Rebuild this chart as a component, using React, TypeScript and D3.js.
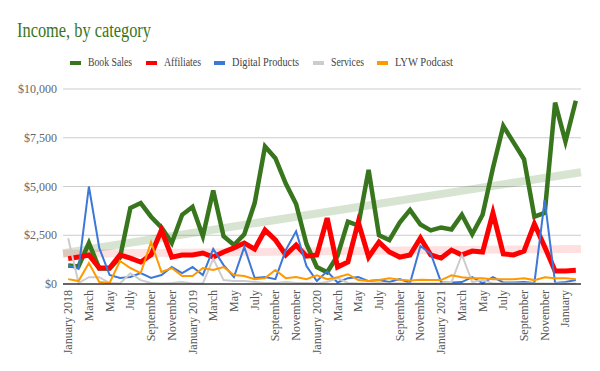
import React from 'react';
import * as d3 from 'd3';

// months Jan 2018 .. Feb 2022
const months = [
  'January 2018', 'February', 'March', 'April', 'May', 'June', 'July', 'August', 'September', 'October', 'November', 'December',
  'January 2019', 'February', 'March', 'April', 'May', 'June', 'July', 'August', 'September', 'October', 'November', 'December',
  'January 2020', 'February', 'March', 'April', 'May', 'June', 'July', 'August', 'September', 'October', 'November', 'December',
  'January 2021', 'February', 'March', 'April', 'May', 'June', 'July', 'August', 'September', 'October', 'November', 'December',
  'January', 'February',
];

const bookSales = [
  950, 900, 2100, 800, 800, 1350, 3900, 4150, 3450, 2900, 2100, 3550,
  3950, 2450, 4800, 2450, 2000, 2550, 4150, 7050, 6450, 5150, 4100, 2050,
  870, 600, 1450, 3200, 3000, 5850, 2500, 2250, 3150, 3800, 3050, 2750,
  2900, 2800, 3550, 2550, 3550, 5950, 8100, 7250, 6400, 3450, 3650, 9300,
  7300, 9400,
];
const affiliates = [
  1300, 1380, 1490, 820, 820, 1490, 1330, 1130, 1490, 2770, 1380, 1490,
  1490, 1590, 1380, 1640, 1850, 2100, 1790, 2770, 2260, 1490, 2000, 1430,
  1490, 3380, 870, 1130, 3180, 1380, 2150, 1640, 1380, 1490, 2360, 1490,
  1330, 1740, 1490, 1690, 1640, 3640, 1540, 1490, 1690, 3080, 1900, 670,
  670, 700,
];
const digitalProducts = [
  970, 770, 5000, 1850, 460, 310, 360, 560, 310, 460, 870, 560,
  870, 460, 1800, 970, 360, 1900, 310, 360, 250, 1740, 2700, 920,
  150, 650, 80, 300, 360, 150, 200, 100, 250, 50, 1950, 1550,
  80, 80, 100, 350, 50, 350, 80, 80, 100, 50, 4300, 50,
  100, 200,
];
const services = [
  2350, 50, 350, 350, 50, 30, 550, 200, 50, 30, 50, 100,
  30, 30, 1300, 200, 150, 150, 100, 50, 50, 100, 50, 50,
  30, 100, 300, 50, 30, 30, 50, 30, 30, 30, 30, 30,
  30, 100, 1500, 100, 200, 30, 30, 30, 30, 30, 30, 30,
  30, 30,
];
const podcast = [
  250, 150, 1080, 100, 50, 1180, 820, 560, 2150, 620, 820, 410,
  410, 820, 720, 870, 460, 410, 250, 300, 720, 300, 360, 250,
  450, 250, 350, 500, 200, 150, 200, 300, 220, 180, 220, 200,
  200, 450, 350, 300, 300, 250, 250, 250, 300, 200, 350, 300,
  300, 250,
];
const yTicks = [0, 2500, 5000, 7500, 10000];

const series = [
  { name: 'Book Sales', values: bookSales, color: '#38761d', width: 4.5, trend: 0.2 },
  { name: 'Affiliates', values: affiliates, color: '#ff0000', width: 5, trend: 0.12 },
  { name: 'Digital Products', values: digitalProducts, color: '#3c78d8', width: 2, trend: 0 },
  { name: 'Services', values: services, color: '#cccccc', width: 2, trend: 0 },
  { name: 'LYW Podcast', values: podcast, color: '#ff9900', width: 2, trend: 0 },
];

const legendX = [70, 146, 214, 313, 377];
const legendW = [44, 37, 67, 33, 58];
const font = 'Liberation Serif, Times New Roman, DejaVu Serif, Noto Serif, serif';

// least squares fit over month index
function fit(vals: number[]) {
  const mx = d3.mean(vals, (_, i) => i) as number;
  const my = d3.mean(vals) as number;
  let sxy = 0, sxx = 0;
  vals.forEach((v, i) => { sxy += (i - mx) * (v - my); sxx += (i - mx) * (i - mx); });
  const b = sxy / sxx;
  return (i: number) => my + b * (i - mx);
}

export default function App() {
  const left = 63, right = 581, top = 89, bottom = 284;
  const x = d3.scaleBand<number>().domain(months.map((_, i) => i)).range([left, right]).padding(0);
  const cx = (i: number) => (x(i) as number) + x.bandwidth() / 2;
  const y = d3.scaleLinear().domain([0, 10000]).range([bottom, top]);

  const line = d3.line<number>().x((_, i) => cx(i)).y(d => y(d));
  const ts = { fontFamily: font };

  return (
    <svg width={600} height={371} style={{ position: 'absolute', left: 0, top: 0, background: '#fff' }}>
      <text x={17} y={37} style={ts} fontSize={20} fill="#38761d"
        textLength={134} lengthAdjust="spacingAndGlyphs">Income, by category</text>

      {series.map((s, k) => (
        <g key={s.name}>
          <rect x={legendX[k]} y={61} width={11} height={4} fill={s.color} />
          <text x={legendX[k] + 18} y={66} style={ts} fontSize={11.5} fill="#444"
            textLength={legendW[k]} lengthAdjust="spacingAndGlyphs">{s.name}</text>
        </g>
      ))}

      {yTicks.map(t => (
        <g key={t}>
          {t > 0 && <line x1={left} x2={right} y1={y(t)} y2={y(t)} stroke="#cccccc" strokeWidth={1} />}
          <text x={57} y={y(t) + 4} textAnchor="end" style={ts} fontSize={12} fill="#666">
            {'$' + d3.format(',')(t)}
          </text>
        </g>
      ))}

      {series.filter(s => s.trend > 0).map(s => {
        const f = fit(s.values);
        const n = s.values.length;
        return (
          <line key={'t' + s.name}
            x1={left} y1={y(f(-0.5))} x2={right} y2={y(f(n - 0.5))}
            stroke={s.color} strokeOpacity={s.trend} strokeWidth={8} />
        );
      })}

      {series.map(s => (
        <path key={'l' + s.name} d={line(s.values) || ''} fill="none" stroke={s.color}
          strokeWidth={s.width} strokeLinejoin="miter" />
      ))}

      <line x1={left} x2={right} y1={y(0)} y2={y(0)} stroke="#333" strokeWidth={1.5} />

      {months.map((m, i) => i % 2 === 0 && (
        <text key={'x' + i} transform={`translate(${cx(i) + 4},290) rotate(-90)`} textAnchor="end"
          style={ts} fontSize={12} fill="#555">{m}</text>
      ))}
    </svg>
  );
}
